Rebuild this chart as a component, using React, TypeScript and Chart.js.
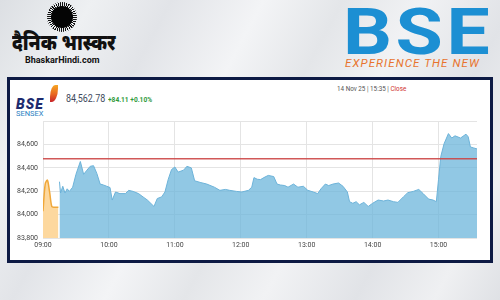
import React, { useEffect, useRef } from 'react';
import { Chart, registerables } from 'chart.js';

Chart.register(...registerables);

// ---- Data ----
// minutes after 09:00
const preOpenMinutes = [0, 2, 4, 6, 8, 10, 14];
const preOpenValues = [84029, 84262, 84295, 84194, 84070, 84064, 84064];

const sessionMinutes = [
  15, 16, 18, 20, 22, 24, 27, 30, 34, 37, 40, 43, 46, 49, 52, 55, 58, 61, 63, 66,
  70, 75, 78, 82, 87, 91, 95, 101, 104, 108, 111, 114, 117, 120, 123, 128, 131, 135, 138, 143,
  149, 156, 161, 166, 170, 176, 181, 187, 190, 192, 195, 198, 201, 205, 210, 213, 216, 220, 223, 228,
  232, 237, 241, 246, 250, 253, 257, 260, 264, 269, 273, 277, 279, 282, 285, 288, 292, 296, 300, 305,
  310, 314, 319, 323, 328, 332, 337, 342, 346, 351, 355, 358, 360, 362, 365, 369, 372, 375, 380, 385,
  387, 389, 392, 395,
];
const sessionValues = [
  84282, 84185, 84243, 84185, 84221, 84199, 84235, 84345, 84455, 84345, 84381, 84414, 84419, 84353, 84262, 84254, 84243, 84232, 84125, 84194,
  84180, 84180, 84208, 84199, 84180, 84152, 84125, 84070, 84138, 84152, 84194, 84303, 84386, 84408, 84364, 84381, 84414, 84400, 84290, 84276,
  84262, 84235, 84208, 84216, 84208, 84199, 84194, 84208, 84235, 84317, 84303, 84300, 84317, 84336, 84326, 84262, 84254, 84249, 84235, 84262,
  84235, 84243, 84208, 84194, 84180, 84221, 84262, 84249, 84262, 84271, 84243, 84194, 84111, 84097, 84111, 84084, 84105, 84070, 84097, 84125,
  84117, 84125, 84111, 84105, 84152, 84188, 84199, 84216, 84180, 84133, 84125, 84111, 84303, 84496, 84606, 84694, 84656, 84675, 84656, 84689,
  84666, 84579, 84571, 84562.78,
];

const previousClose = 84478.67;
const xTickLabels = ['09:00', '10:00', '11:00', '12:00', '13:00', '14:00', '15:00'];
const yTickLabels = ['83,800', '84,000', '84,200', '84,400', '84,600', ''];
const yMin = 83800;
const yMax = 84800;
const yStep = 200;
const xMax = 395;

const lastValue = '84,562.78';
const change = '+84.11 +0.10%';

function SensexChart() {
  const ref = useRef<HTMLCanvasElement | null>(null);
  useEffect(() => {
    if (!ref.current) return;
    const chart = new Chart(ref.current, {
      type: 'line',
      data: {
        datasets: [
          {
            label: 'Previous close',
            data: [
              { x: 0, y: previousClose },
              { x: xMax, y: previousClose },
            ],
            borderColor: 'rgba(204,70,70,0.9)',
            borderWidth: 1.5,
            pointRadius: 0,
            fill: false,
            order: 0,
          },
          {
            label: 'Pre-open',
            data: preOpenMinutes.map((m, i) => ({ x: m, y: preOpenValues[i] })),
            borderColor: '#f0a83a',
            backgroundColor: '#fdd89e',
            borderWidth: 1.5,
            pointRadius: 0,
            fill: 'start',
            tension: 0.3,
            order: 2,
          },
          {
            label: 'SENSEX',
            data: sessionMinutes.map((m, i) => ({ x: m, y: sessionValues[i] })),
            borderColor: '#6db3d9',
            backgroundColor: 'rgba(108,182,219,0.75)',
            borderWidth: 1,
            pointRadius: 0,
            fill: 'start',
            order: 1,
          },
        ],
      },
      options: {
        animation: false,
        responsive: false,
        maintainAspectRatio: false,
        layout: { padding: { top: 4, left: 0, right: 0, bottom: 0 }, autoPadding: false },
        plugins: { legend: { display: false }, tooltip: { enabled: false } },
        scales: {
          x: {
            type: 'linear',
            min: 0,
            max: xMax,
            ticks: {
              stepSize: 60,
              includeBounds: false,
              autoSkip: false,
              maxRotation: 0,
              padding: 3,
              color: '#444',
              font: { size: 7, family: 'Roboto, Arial, sans-serif' },
              callback: (v: any) => xTickLabels[Math.round(Number(v) / 60)] ?? '',
            },
            grid: { color: '#e4e4e4', drawTicks: false },
            border: { display: false },
            afterFit: (s: any) => {
              s.height = 20;
            },
          },
          y: {
            min: yMin,
            max: yMax,
            ticks: {
              stepSize: yStep,
              padding: 5,
              color: '#444',
              font: { size: 7, family: 'Roboto, Arial, sans-serif' },
              callback: (v: any) => yTickLabels[Math.round((Number(v) - yMin) / yStep)] ?? '',
            },
            grid: { color: '#e4e4e4', drawTicks: false },
            border: { display: true, color: '#e4e4e4' },
            afterFit: (s: any) => {
              s.width = 33;
            },
          },
        },
      },
    });
    return () => chart.destroy();
  }, []);
  return (
    <canvas
      ref={ref}
      width={467}
      height={146}
      style={{ position: 'absolute', left: 10, top: 112, width: 467, height: 146 }}
    />
  );
}

export default function App() {
  const abs: React.CSSProperties = { position: 'absolute', whiteSpace: 'nowrap', lineHeight: 1 };
  return (
    <div
      style={{
        position: 'fixed',
        left: 0,
        top: 0,
        width: 500,
        height: 300,
        overflow: 'hidden',
        fontFamily: 'Roboto, Arial, sans-serif',
        background:
          'linear-gradient(118deg, #dcdfe3 0%, #eef0f2 14%, #e2e4e8 26%, #f3f4f6 40%, #e4e6e9 52%, #f1f2f4 64%, #e1e3e7 78%, #eff0f2 90%, #dfe1e5 100%)',
      }}
    >
      {/* Dainik Bhaskar logo */}
      <div
        style={{
          ...abs,
          left: 47,
          top: 2,
          width: 30,
          height: 30,
          borderRadius: '50%',
          background: 'repeating-conic-gradient(#111 0deg 4deg, transparent 4deg 9deg)',
        }}
      />
      <div
        style={{ ...abs, left: 51, top: 6, width: 22, height: 22, borderRadius: '50%', background: '#050505' }}
      />
      <div
        style={{
          ...abs,
          left: 12,
          top: 34,
          fontSize: 22,
          fontWeight: 900,
          color: '#111',
          fontFamily: '"Noto Sans Devanagari", "Noto Sans", sans-serif',
          transform: 'scaleX(0.84)',
          transformOrigin: 'left top',
        }}
      >
        दैनिक भास्कर
      </div>
      <div style={{ ...abs, left: 25, top: 56, fontSize: 9, fontWeight: 700, color: '#111' }}>
        BhaskarHindi.com
      </div>

      {/* BSE logo */}
      <div
        style={{
          ...abs,
          left: 343,
          top: 1,
          fontSize: 64,
          fontWeight: 700,
          color: '#1c8fd3',
          letterSpacing: 3,
          transform: 'scaleX(1.2)',
          transformOrigin: 'left top',
          fontFamily: 'Roboto, Arial, sans-serif',
        }}
      >
        BSE
      </div>
      <div
        style={{
          ...abs,
          left: 345,
          top: 58,
          fontSize: 11.5,
          fontStyle: 'italic',
          color: '#e8742e',
          letterSpacing: 1.1,
        }}
      >
        EXPERIENCE THE NEW
      </div>

      {/* Panel */}
      <div
        style={{
          position: 'absolute',
          left: 7,
          top: 77,
          width: 486,
          height: 186,
          boxSizing: 'border-box',
          border: '3px solid #0d1a44',
          background: '#fff',
        }}
      />

      {/* Sensex header */}
      <div
        style={{
          ...abs,
          left: 16,
          top: 97,
          fontSize: 14,
          fontWeight: 900,
          fontStyle: 'italic',
          color: '#1d2b6e',
          letterSpacing: 1,
        }}
      >
        BSE
      </div>
      <div
        style={{
          ...abs,
          left: 50,
          top: 85,
          width: 8,
          height: 17,
          borderRadius: '70% 0 80% 0',
          background: 'linear-gradient(180deg, #f6a623 0%, #e8651f 55%, #c8242a 100%)',
        }}
      />
      <div style={{ ...abs, left: 16, top: 110, fontSize: 7.5, color: '#2b7fc2' }}>SENSEX</div>
      <div
        style={{
          ...abs,
          left: 66,
          top: 94,
          fontSize: 10.5,
          color: '#3d4a5c',
          transform: 'scaleX(0.85)',
          transformOrigin: 'left top',
        }}
      >
        {lastValue}
      </div>
      <div
        style={{
          ...abs,
          left: 108,
          top: 96,
          fontSize: 7.5,
          fontWeight: 700,
          color: '#2f9a3a',
          transform: 'scaleX(0.88)',
          transformOrigin: 'left top',
        }}
      >
        {change}
      </div>
      <div
        style={{
          ...abs,
          left: 337,
          top: 86,
          fontSize: 7,
          color: '#555',
          transform: 'scaleX(0.9)',
          transformOrigin: 'left top',
        }}
      >
        14 Nov 25 | 15:35 | <span style={{ color: '#d0302c' }}>Close</span>
      </div>

      <SensexChart />
    </div>
  );
}
